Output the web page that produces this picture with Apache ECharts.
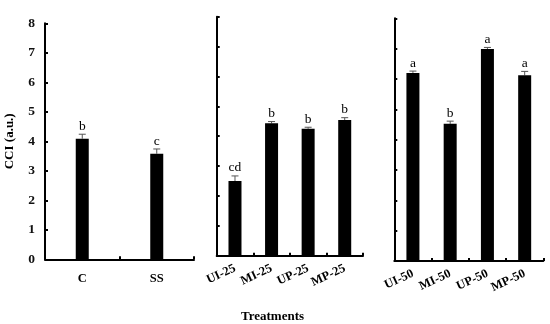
<!DOCTYPE html>
<html><head><meta charset="utf-8">
<script src="https://cdn.jsdelivr.net/npm/echarts@6/dist/echarts.min.js"></script>
<style>html,body{margin:0;padding:0;background:#fff}#c{width:550px;height:324px}</style>
</head><body><div id="c"></div>
<script>
// Data
var cats1 = ['C', 'SS'];
var vals1 = [4.09, 3.58];
var err1 = [0.15, 0.16];
var sig1 = ['b', 'c'];

var cats2 = ['UI-25', 'MI-25', 'UP-25', 'MP-25'];
var vals2 = [2.50, 4.43, 4.25, 4.54];
var err2 = [0.17, 0.06, 0.05, 0.08];
var sig2 = ['cd', 'b', 'b', 'b'];

var cats3 = ['UI-50', 'MI-50', 'UP-50', 'MP-50'];
var vals3 = [6.20, 4.52, 6.99, 6.12];
var err3 = [0.06, 0.09, 0.05, 0.13];
var sig3 = ['a', 'b', 'a', 'a'];

var yTicks = ['0','1','2','3','4','5','6','7','8'];

var SERIF = '"Liberation Serif","Times New Roman",serif';

var grids = [
  {left: 45, top: 23.3, width: 149, height: 236},
  {left: 216.7, top: 16.7, width: 146.3, height: 239},
  {left: 394.3, top: 18.3, width: 149, height: 242.7}
];

function xAx(i, cats, rotate, margin) {
  return {
    type: 'category', gridIndex: i, data: cats,
    axisLine: {lineStyle: {color: '#000', width: 2}},
    axisTick: {show: true, inside: true, length: 3, lineStyle: {color: '#000', width: 2}},
    axisLabel: {color: '#000', fontFamily: SERIF, fontWeight: 'bold', fontSize: 12.5, rotate: rotate, margin: margin, interval: 0}
  };
}
function yAx(i, showLabel) {
  return {
    type: 'value', gridIndex: i, min: 0, max: 8, interval: 1,
    splitLine: {show: false},
    axisLine: {show: true, lineStyle: {color: '#000', width: 2}},
    axisTick: {show: true, inside: true, length: 3, lineStyle: {color: '#000', width: 2}},
    axisLabel: {show: showLabel, color: '#111', fontFamily: SERIF, fontWeight: 'bold', fontSize: 13.5, margin: 10,
      formatter: function (v) { return yTicks[v]; }},
    name: showLabel ? 'CCI (a.u.)' : '',
    nameLocation: 'middle', nameGap: 29,
    nameTextStyle: {color: '#000', fontFamily: SERIF, fontWeight: 'bold', fontSize: 13}
  };
}

function barSeries(i, vals) {
  return {type: 'bar', xAxisIndex: i, yAxisIndex: i, data: vals, barWidth: 13,
    itemStyle: {color: '#000'}, silent: true, animation: false};
}
function errSeries(i, vals, errs, sigs) {
  var data = vals.map(function (v, k) { return [k, v, v + errs[k], sigs[k]]; });
  return {
    type: 'custom', xAxisIndex: i, yAxisIndex: i, data: data, animation: false, silent: true,
    renderItem: function (params, api) {
      var k = api.value(0);
      var lo = api.coord([k, api.value(1)]);
      var hi = api.coord([k, api.value(2)]);
      var letter = sigs[params.dataIndex];
      return {type: 'group', children: [
        {type: 'line', shape: {x1: lo[0], y1: lo[1], x2: hi[0], y2: hi[1]}, style: {stroke: '#555', lineWidth: 1}},
        {type: 'line', shape: {x1: hi[0] - 3.5, y1: hi[1], x2: hi[0] + 3.5, y2: hi[1]}, style: {stroke: '#555', lineWidth: 1}},
        {type: 'text', x: hi[0], y: hi[1] - 1, style: {text: letter, fill: '#000', font: '13.5px ' + SERIF, textAlign: 'center', textVerticalAlign: 'bottom'}}
      ]};
    }
  };
}

var chart = echarts.init(document.getElementById('c'));
chart.setOption({
  backgroundColor: '#fff',
  animation: false,
  title: {text: 'Treatments', left: 236, top: 305,
    textStyle: {color: '#000', fontFamily: SERIF, fontWeight: 'bold', fontSize: 13}},
  grid: grids,
  xAxis: [xAx(0, cats1, 0, 13), xAx(1, cats2, 25, 12), xAx(2, cats3, 25, 12)],
  yAxis: [yAx(0, true), yAx(1, false), yAx(2, false)],
  series: [
    barSeries(0, vals1), errSeries(0, vals1, err1, sig1),
    barSeries(1, vals2), errSeries(1, vals2, err2, sig2),
    barSeries(2, vals3), errSeries(2, vals3, err3, sig3)
  ]
});
</script></body></html>
